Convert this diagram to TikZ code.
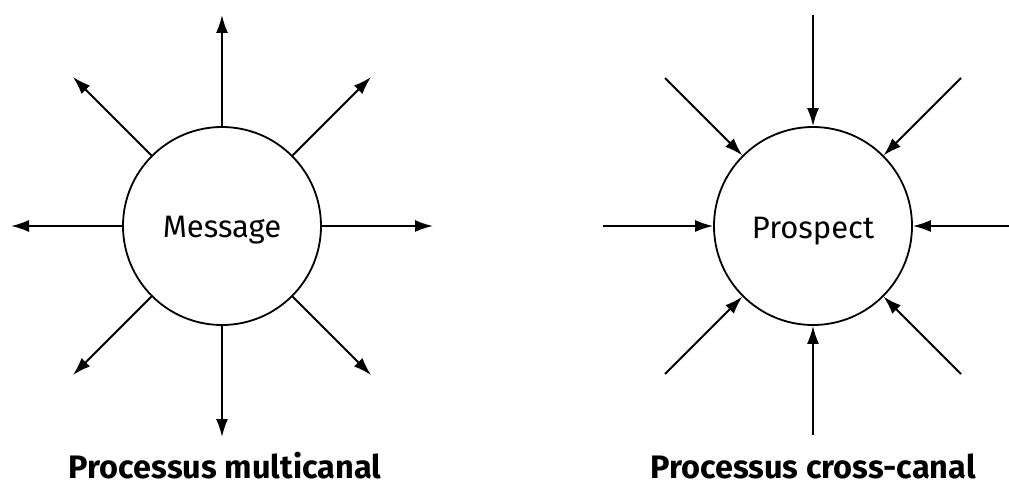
\documentclass[tikz,border=0pt]{standalone}
\usepackage{fontspec}
\setmainfont{Fira Sans}
\usetikzlibrary{arrows.meta}
\begin{document}
\begin{tikzpicture}[x=1pt,y=-1pt,
  hub/.style={circle,draw,line width=1.8pt,minimum size=198pt,inner sep=0pt},
  conn/.style={line width=1.8pt,-{Latex[length=18pt,width=12pt]}},
  lbl/.style={anchor=base,font=\fontsize{31}{33}\selectfont,inner sep=0pt},
  ttl/.style={anchor=base,font=\fontsize{32.5}{35}\selectfont\bfseries,inner sep=0pt}]
\useasboundingbox (0,0) rectangle (1009,487);
% left
\node[hub] (L) at (222,226) {};
\node[lbl] (Lt) at (222,237) {Message};
\coordinate (Ln) at (222,15);
\coordinate (Ls) at (222,437);
\coordinate (Lw) at (11,226);
\coordinate (Le) at (433,226);
\coordinate (Lnw) at (73,77);
\coordinate (Lne) at (371,77);
\coordinate (Lsw) at (73,375);
\coordinate (Lse) at (371,375);
\foreach \c in {Ln,Ls,Lw,Le,Lnw,Lne,Lsw,Lse} \draw[conn] (L) -- (\c);
\node[ttl] (Ltitle) at (225,478) {Processus multicanal};
% right
\node[hub] (R) at (813,226) {};
\node[lbl] (Rt) at (813,238) {Prospect};
\coordinate (Rn) at (813,15);
\coordinate (Rs) at (813,435);
\coordinate (Rw) at (603,226);
\coordinate (Re) at (1009,226);
\coordinate (Rnw) at (665,78);
\coordinate (Rne) at (961,78);
\coordinate (Rsw) at (665,374);
\coordinate (Rse) at (961,374);
\foreach \c in {Rn,Rs,Rw,Re,Rnw,Rne,Rsw,Rse} \draw[conn] (\c) -- (R);
\node[ttl] (Rtitle) at (813,478) {Processus cross-canal};
\end{tikzpicture}
\end{document}
